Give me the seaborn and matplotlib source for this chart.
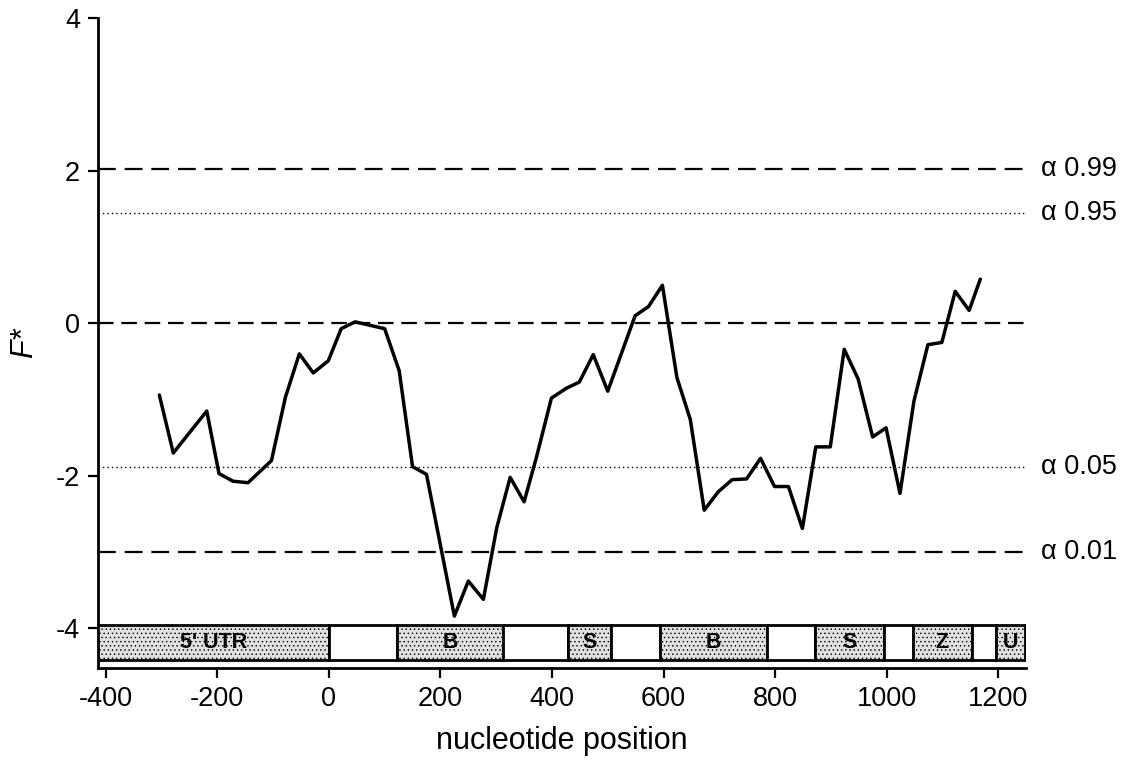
import matplotlib
matplotlib.use("Agg")
import matplotlib.pyplot as plt
from matplotlib.patches import Rectangle
import seaborn as sns
import pandas as pd

# Sliding-window F* along the sequence
position = [-304, -279, -219, -197, -172, -145, -103, -78, -53, -28, -1, 22, 47,
            100, 126, 150, 175, 225, 250, 277, 301, 325, 350, 372, 399, 426, 449,
            474, 500, 549, 573, 598, 624, 648, 673, 698, 723, 749, 774, 799, 824,
            849, 873, 899, 924, 949, 975, 999, 1024, 1049, 1074, 1099, 1123, 1148,
            1168]
f_star = [-0.94, -1.70, -1.15, -1.97, -2.07, -2.09, -1.80, -0.97, -0.40, -0.65,
          -0.49, -0.07, 0.02, -0.07, -0.62, -1.88, -1.98, -3.84, -3.38, -3.62,
          -2.68, -2.02, -2.34, -1.76, -0.98, -0.85, -0.77, -0.41, -0.89, 0.10,
          0.22, 0.50, -0.71, -1.26, -2.45, -2.21, -2.05, -2.04, -1.77, -2.14,
          -2.14, -2.69, -1.62, -1.62, -0.34, -0.73, -1.49, -1.37, -2.23, -1.02,
          -0.28, -0.25, 0.42, 0.17, 0.58]

# Significance thresholds
alpha_labels = ["α 0.99", "α 0.95", "α 0.05", "α 0.01"]
alpha_values = [2.02, 1.45, -1.89, -3.00]
alpha_styles = ["dash", "dot", "dot", "dash"]

# Gene structure map (region boundaries along the sequence)
region_start = [-414, 0, 122, 312, 429, 506, 594, 786, 872, 995, 1047, 1153, 1196]
region_end = [0, 122, 312, 429, 506, 594, 786, 872, 995, 1047, 1153, 1196, 1248]
region_label = ["5' UTR", "", "B", "", "S", "", "B", "", "S", "", "Z", "", "U"]

x_ticks = [-400, -200, 0, 200, 400, 600, 800, 1000, 1200]
y_ticks = [-4, -2, 0, 2, 4]

sns.set_theme(style="ticks")
plt.rcParams["font.family"] = ["Liberation Sans", "DejaVu Sans"]
plt.rcParams["text.color"] = "black"
plt.rcParams["axes.labelcolor"] = "black"
plt.rcParams["hatch.color"] = "#b4b4b4"
plt.rcParams["hatch.linewidth"] = 0.5

fig = plt.figure(figsize=(11.29, 7.67), dpi=100)
ax = fig.add_axes([0.0868, 0.1291, 0.8220, 0.8469])

df = pd.DataFrame({"position": position, "F*": f_star})
sns.lineplot(data=df, x="position", y="F*", ax=ax, color="black",
             linewidth=2.5, zorder=5)

dash_style = {"dash": (0, (8, 4)), "dot": (0, (1, 2.2))}
dash_width = {"dash": 1.6, "dot": 1.0}
for lab, val, sty in zip(alpha_labels, alpha_values, alpha_styles):
    ax.axhline(val, color="black", lw=dash_width[sty], linestyle=dash_style[sty],
               zorder=2)
    ax.annotate(lab, xy=(1.0, val), xycoords=ax.get_yaxis_transform(),
                xytext=(11, 0), textcoords="offset points", ha="left",
                va="center", fontsize=19.5, annotation_clip=False)

# zero reference line
ax.axhline(0, color="black", lw=1.6, linestyle=(0, (7, 3.5)), zorder=2)

# gene structure bar
bar_low, bar_high = -4.41, -3.95
for s, e, lab in zip(region_start, region_end, region_label):
    shaded = lab != ""
    ax.add_patch(Rectangle((s, bar_low), e - s, bar_high - bar_low,
                           facecolor="#e0e0e0" if shaded else "white",
                           hatch="...." if shaded else None,
                           edgecolor="black", lw=2.0, zorder=4))
    if shaded:
        ax.text((s + e) / 2, (bar_low + bar_high) / 2, lab, ha="center",
                va="center", fontsize=15.5, fontweight="bold", color="black",
                zorder=6)

ax.set_xlim(-414, 1250)
ax.set_ylim(-4.52, 4.0)
ax.set_xticks(x_ticks)
ax.set_yticks(y_ticks)
ax.set_xticklabels([str(t) for t in x_ticks])
ax.set_yticklabels([str(t) for t in y_ticks])
ax.tick_params(axis="both", labelsize=19.5, length=7, width=1.6, pad=6,
               colors="black")
sns.despine(ax=ax)
for side in ["left", "bottom"]:
    ax.spines[side].set_linewidth(2.0)
    ax.spines[side].set_color("black")

ax.set_xlabel("nucleotide position", fontsize=22, labelpad=10)
ax.set_ylabel("F*", fontsize=22, fontstyle="italic", labelpad=12)

fig.savefig("out.png", dpi=100, facecolor="white")
